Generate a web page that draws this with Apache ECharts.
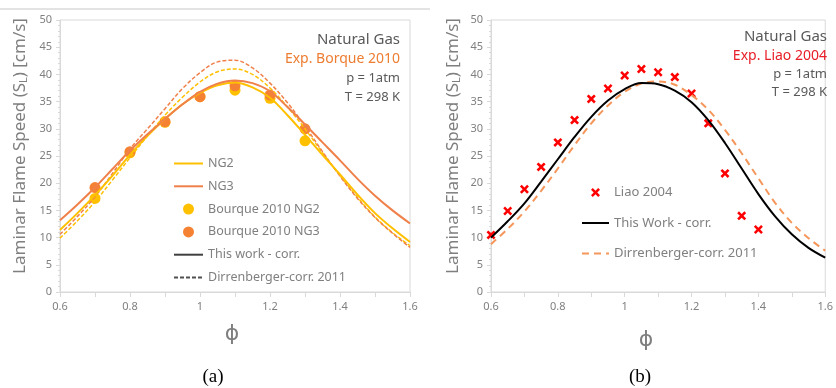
<!DOCTYPE html>
<html>
<head>
<meta charset="utf-8">
<script src="https://cdn.jsdelivr.net/npm/echarts@6/dist/echarts.min.js"></script>
<style>
  html, body { margin: 0; padding: 0; background: #fff; }
  #chart { width: 836px; height: 388px; }
</style>
</head>
<body>
<div id="chart"></div>
<script>
// equivalence ratio grid for the correlation curves
const phi = [0.6, 0.65, 0.7, 0.75, 0.8, 0.85, 0.9, 0.95, 1.0, 1.05, 1.1,
  1.15, 1.2, 1.25, 1.3, 1.35, 1.4, 1.45, 1.5, 1.55, 1.6];

// (a) Bourque 2010 natural gas
const ng2Work = [11.4, 14.5, 17.8, 21.4, 25.2, 28.7, 31.8, 34.5, 36.6, 38.0, 38.5,
  37.6, 35.7, 32.5, 28.9, 25.2, 21.6, 17.9, 14.5, 11.7, 9.2];
const ng3Work = [13.2, 16.1, 19.2, 22.6, 26.0, 29.0, 31.8, 34.5, 36.8, 38.3, 38.9,
  38.4, 36.9, 34.0, 30.8, 27.5, 24.2, 20.8, 17.7, 15.0, 12.6];
const ng2Dirr = [9.9, 13.1, 16.6, 20.6, 24.7, 28.7, 32.5, 35.8, 38.6, 40.5, 41.0,
  40.0, 37.5, 34.0, 30.0, 25.6, 21.4, 17.4, 13.8, 10.9, 8.5];
const ng3Dirr = [10.6, 13.9, 17.5, 21.8, 26.3, 30.0, 33.7, 37.4, 40.3, 42.3, 42.6,
  41.2, 38.4, 34.8, 30.5, 25.8, 21.3, 17.2, 13.7, 10.8, 8.2];
const bourquePhi = [0.7, 0.8, 0.9, 1.0, 1.1, 1.2, 1.3];
const bourqueNG2 = [17.2, 25.6, 31.2, 35.9, 37.1, 35.6, 27.8];
const bourqueNG3 = [19.2, 25.8, 31.3, 35.9, 37.9, 36.2, 30.0];

// (b) Liao 2004
const liaoWork = [10.0, 13.0, 16.3, 20.3, 24.4, 28.5, 32.2, 35.2, 37.3, 38.4, 38.2,
  37.0, 34.9, 31.6, 27.4, 22.7, 18.0, 13.9, 10.6, 8.1, 6.3];
const liaoDirr = [8.8, 11.6, 14.8, 18.6, 22.7, 27.0, 31.0, 34.3, 36.8, 38.3, 38.7,
  38.1, 36.2, 33.5, 29.8, 25.5, 20.9, 16.4, 12.7, 9.9, 7.6];
const liaoPhi = [0.6, 0.65, 0.7, 0.75, 0.8, 0.85, 0.9, 0.95, 1.0, 1.05, 1.1,
  1.15, 1.2, 1.25, 1.3, 1.35, 1.4];
const liaoSL = [10.5, 14.9, 18.9, 23.0, 27.5, 31.6, 35.5, 37.4, 39.8, 41.0, 40.4,
  39.5, 36.5, 31.0, 21.8, 14.0, 11.5];

const xLabels = ['0.6', '0.8', '1', '1.2', '1.4', '1.6'];
const yTicks = [0, 5, 10, 15, 20, 25, 30, 35, 40, 45, 50];

const FONT = 'Noto Sans';
const GRAYTXT = '#808080';
const AXIS = '#d9d9d9';
const crossPath = 'path://M2,0 L5,3 L8,0 L10,2 L7,5 L10,8 L8,10 L5,7 L2,10 L0,8 L3,5 L0,2 Z';

function pairs(xs, ys) {
  return ys.map((y, i) => [xs[i], y]);
}

function xAxis(idx) {
  return {
    type: 'value', gridIndex: idx, min: 0.6, max: 1.6, interval: 0.1,
    axisLine: { lineStyle: { color: AXIS } },
    axisTick: { length: 5, lineStyle: { color: AXIS } },
    splitLine: { show: false },
    axisLabel: {
      color: GRAYTXT, fontSize: 11, fontFamily: FONT, margin: 9,
      formatter: function (v) {
        const k = Math.round(v * 10);
        return k % 2 === 0 ? xLabels[(k - 6) / 2] : '';
      }
    }
  };
}

function yAxis(idx) {
  return {
    type: 'value', gridIndex: idx, min: yTicks[0], max: yTicks[yTicks.length - 1], interval: 5,
    axisLine: { show: true, lineStyle: { color: AXIS } },
    axisTick: { show: true, length: 4, lineStyle: { color: AXIS } },
    minorTick: { show: true, splitNumber: 5, length: 2, lineStyle: { color: AXIS } },
    splitLine: { show: false },
    axisLabel: { color: GRAYTXT, fontSize: 11, fontFamily: FONT, margin: 8 }
  };
}

function curve(name, data, color, type, width, idx) {
  return {
    name: name, type: 'line', xAxisIndex: idx, yAxisIndex: idx,
    data: data, smooth: 0.35, symbol: 'none',
    lineStyle: { color: color, width: width, type: type },
    itemStyle: { color: color },
    silent: true
  };
}

// legend entry that shows only the line sample
function lineEntry(name) {
  return { name: name, itemStyle: { opacity: 0, borderWidth: 0 } };
}

function note(x, y, text, color, size) {
  return {
    type: 'text', x: x, y: y,
    style: { text: text, fill: color, font: size + 'px "' + FONT + '"', textAlign: 'right', textVerticalAlign: 'middle' }
  };
}

function yTitle(x) {
  return {
    type: 'text', x: x, y: 146, rotation: Math.PI / 2,
    style: {
      text: 'Laminar Flame Speed (S{s|L}) [cm/s]', fill: '#7f7f7f',
      font: '17px "' + FONT + '"', textAlign: 'center', textVerticalAlign: 'middle',
      rich: { s: { fontSize: 10, fill: '#7f7f7f', verticalAlign: 'bottom', padding: [8, 0, 0, 0] } }
    }
  };
}

const chart = echarts.init(document.getElementById('chart'));

const option = {
  animation: false,
  backgroundColor: '#fff',
  grid: [
    { left: 60, right: 426, top: 20, height: 272, show: true, borderColor: AXIS, borderWidth: 1 },
    { left: 491, right: 5, top: 20, height: 272, show: true, borderColor: AXIS, borderWidth: 1 }
  ],
  xAxis: [xAxis(0), xAxis(1)],
  yAxis: [yAxis(0), yAxis(1)],
  legend: [
    {
      orient: 'vertical', left: 168, top: 152, itemWidth: 29, itemHeight: 11, itemGap: 9.8,
      textStyle: { color: GRAYTXT, fontSize: 12.5, fontFamily: FONT },
      data: [
        lineEntry('NG2'),
        lineEntry('NG3'),
        'Bourque 2010 NG2',
        'Bourque 2010 NG3',
        lineEntry('This work - corr.'),
        lineEntry('Dirrenberger-corr. 2011')
      ]
    },
    {
      orient: 'vertical', left: 576, top: 181, itemWidth: 27, itemHeight: 9, itemGap: 17.5,
      textStyle: { color: GRAYTXT, fontSize: 13, fontFamily: FONT },
      data: [
        'Liao 2004',
        lineEntry('This Work - corr.'),
        lineEntry('Dirrenberger-corr. 2011 ')
      ]
    }
  ],
  series: [
    curve('NG2 Dirrenberger', pairs(phi, ng2Dirr), '#FFC000', [4, 2], 1.5, 0),
    curve('NG3 Dirrenberger', pairs(phi, ng3Dirr), '#F0804A', [4, 2], 1.5, 0),
    curve('NG2', pairs(phi, ng2Work), '#FFC000', 'solid', 2, 0),
    curve('NG3', pairs(phi, ng3Work), '#F0804A', 'solid', 2, 0),
    curve('This work - corr.', [], '#404040', 'solid', 2, 0),
    curve('Dirrenberger-corr. 2011', [], '#505050', [4, 2], 1.5, 0),
    {
      name: 'Bourque 2010 NG2', type: 'scatter', xAxisIndex: 0, yAxisIndex: 0,
      data: pairs(bourquePhi, bourqueNG2), symbol: 'circle', symbolSize: 11,
      itemStyle: { color: '#FFC000', opacity: 1 }
    },
    {
      name: 'Bourque 2010 NG3', type: 'scatter', xAxisIndex: 0, yAxisIndex: 0,
      data: pairs(bourquePhi, bourqueNG3), symbol: 'circle', symbolSize: 11,
      itemStyle: { color: '#F58232', opacity: 1 }
    },
    curve('Dirrenberger-corr. 2011 ', pairs(phi, liaoDirr), '#F5965A', [7, 5], 2, 1),
    curve('This Work - corr.', pairs(phi, liaoWork), '#000000', 'solid', 2, 1),
    {
      name: 'Liao 2004', type: 'scatter', xAxisIndex: 1, yAxisIndex: 1,
      data: pairs(liaoPhi, liaoSL), symbol: crossPath, symbolSize: 9,
      itemStyle: { color: '#FF0000', opacity: 1 }
    }
  ],
  graphic: [
    { type: 'line', shape: { x1: 0, y1: 9, x2: 430, y2: 9 }, style: { stroke: '#e3e3e3', lineWidth: 2 } },
    note(400, 40, 'Natural Gas', '#595959', 15),
    note(400, 59, 'Exp. Borque 2010', '#ED7D31', 14),
    note(400, 78, 'p = 1atm', '#595959', 13),
    note(400, 97, 'T = 298 K', '#595959', 13),
    note(827, 37, 'Natural Gas', '#595959', 15),
    note(827, 56, 'Exp. Liao 2004', '#E8202A', 14),
    note(827, 74, 'p = 1atm', '#595959', 13),
    note(827, 92, 'T = 298 K', '#595959', 13),
    yTitle(20),
    yTitle(453),
    { type: 'text', x: 232, y: 334, style: { text: '\u03D5', fill: '#7f7f7f', font: '22px "DejaVu Sans"', textAlign: 'center', textVerticalAlign: 'middle' } },
    { type: 'text', x: 646, y: 340, style: { text: '\u03D5', fill: '#7f7f7f', font: '22px "DejaVu Sans"', textAlign: 'center', textVerticalAlign: 'middle' } },
    { type: 'text', x: 213, y: 377, style: { text: '(a)', fill: '#000', font: '19px "Liberation Serif"', textAlign: 'center', textVerticalAlign: 'middle' } },
    { type: 'text', x: 640, y: 377, style: { text: '(b)', fill: '#000', font: '19px "Liberation Serif"', textAlign: 'center', textVerticalAlign: 'middle' } }
  ]
};

chart.setOption(option);
</script>
</body>
</html>
